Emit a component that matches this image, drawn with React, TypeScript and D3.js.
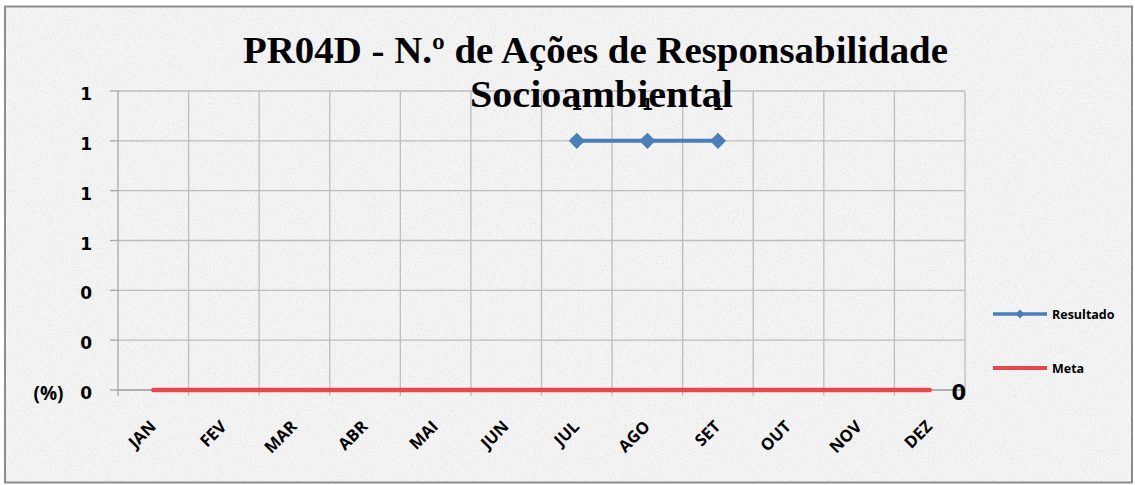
import React from "react";
import * as d3 from "d3";

const months = ["JAN", "FEV", "MAR", "ABR", "MAI", "JUN", "JUL", "AGO", "SET", "OUT", "NOV", "DEZ"];
const resultado: (number | null)[] = [null, null, null, null, null, null, 1, 1, 1, null, null, null];
const meta: number[] = [0, 0, 0, 0, 0, 0, 0, 0, 0, 0, 0, 0];
const yTicks = [0, 0.2, 0.4, 0.6, 0.8, 1.0, 1.2];
const titleLines = ["PR04D - N.º de Ações de Responsabilidade", "Socioambiental"];
const legendItems = ["Resultado", "Meta"];

const W = 1135;
const H = 485;
const BLUE = "#4a7ebb";
const RED = "#e8474b";
const GRID = "#bdbdbd";
const LABEL_FONT = "'Open Sans', 'DejaVu Sans', sans-serif";
const NUM_FONT = "'DejaVu Sans', 'Open Sans', sans-serif";

export default function App() {
  const x = d3.scaleBand<string>().domain(months).range([118, 965]);
  const cx = (m: string) => (x(m) as number) + x.bandwidth() / 2;
  const y = d3.scaleLinear().domain([0, 1.2]).range([390, 91]);
  const fmt = d3.format(".0f");

  const resPts = months
    .map((m, i) => ({ m, v: resultado[i] }))
    .filter((d) => d.v !== null) as { m: string; v: number }[];
  const metaPts = months.map((m, i) => ({ m, v: meta[i] }));

  const line = d3
    .line<{ m: string; v: number }>()
    .x((d) => cx(d.m))
    .y((d) => y(d.v));

  const diamond = d3.symbol().type(d3.symbolDiamond2).size(165)();

  return (
    <svg
      width={W}
      height={H}
      style={{ position: "absolute", left: 0, top: 0, display: "block" }}
    >
      <defs>
        <filter id="grain" x="0" y="0" width="100%" height="100%">
          <feTurbulence type="fractalNoise" baseFrequency="0.6" numOctaves="3" seed="4" result="n" />
          <feColorMatrix
            in="n"
            type="matrix"
            values="0 0 0 0 0.6  0 0 0 0 0.6  0 0 0 0 0.6  1.6 0 0 0 -0.65"
          />
        </filter>
      </defs>
      <rect x={0} y={0} width={W} height={H} fill="#ffffff" />
      <rect x={5} y={6.5} width={1127} height={476} fill="#f5f5f5" />
      <rect x={5} y={6.5} width={1127} height={476} filter="url(#grain)" opacity={0.45} />
      <rect x={5} y={6.5} width={1127} height={476} fill="none" stroke="#8c8c8c" strokeWidth={2} />

      {/* horizontal gridlines */}
      {yTicks.map((t) => (
        <line key={"h" + t} x1={118} x2={965} y1={y(t)} y2={y(t)} stroke={GRID} strokeWidth={1.3} />
      ))}
      {/* vertical gridlines */}
      {months.map((m) => (
        <line
          key={"v" + m}
          x1={(x(m) as number) + x.bandwidth()}
          x2={(x(m) as number) + x.bandwidth()}
          y1={y(1.2)}
          y2={396}
          stroke={GRID}
          strokeWidth={1.3}
        />
      ))}
      <line x1={118} x2={118} y1={y(1.2)} y2={396} stroke="#a6a6a6" strokeWidth={1.3} />
      <line x1={118} x2={965} y1={y(0)} y2={y(0)} stroke="#a6a6a6" strokeWidth={1.3} />
      {/* y ticks */}
      {yTicks.map((t) => (
        <g key={"yt" + t}>
          <line x1={110} x2={118} y1={y(t)} y2={y(t)} stroke="#a6a6a6" strokeWidth={1.3} />
          <text
            x={92}
            y={y(t) + 9}
            textAnchor="end"
            fontFamily={NUM_FONT}
            fontWeight="bold"
            fontSize={17}
            fill="#000"
          >
            {fmt(t)}
          </text>
        </g>
      ))}
      <text
        x={48.5}
        y={y(0) + 3}
        textAnchor="middle"
        dominantBaseline="central"
        fontFamily={LABEL_FONT}
        fontWeight="bold"
        fontSize={19}
        fill="#000"
      >
        (%)
      </text>
      {/* x tick labels */}
      {months.map((m) => (
        <text
          key={"xl" + m}
          transform={`translate(${cx(m) - 1},${423}) rotate(-45)`}
          textAnchor="end"
          dominantBaseline="central"
          fontFamily={LABEL_FONT}
          fontWeight="bold"
          fontSize={16.5}
          fill="#000"
        >
          {m}
        </text>
      ))}

      {/* Meta */}
      <path d={line(metaPts) || ""} fill="none" stroke={RED} strokeWidth={4.5} strokeLinecap="round" />
      <text
        x={cx("DEZ") + 29}
        y={y(0) + 10}
        textAnchor="middle"
        fontFamily={NUM_FONT}
        fontWeight="bold"
        fontSize={21}
        fill="#000"
      >
        {fmt(meta[meta.length - 1])}
      </text>

      {/* Resultado */}
      <path d={line(resPts) || ""} fill="none" stroke={BLUE} strokeWidth={4} />
      {resPts.map((d) => (
        <path key={"d" + d.m} d={diamond || ""} transform={`translate(${cx(d.m)},${y(d.v)})`} fill={BLUE} />
      ))}

      {/* Resultado labels (behind title, as in the original) */}
      {resPts.map((d) => (
        <text
          key={"rl" + d.m}
          x={cx(d.m)}
          y={y(d.v) - 31}
          textAnchor="middle"
          fontFamily={NUM_FONT}
          fontWeight="bold"
          fontSize={16}
          fill="#000"
        >
          {fmt(d.v)}
        </text>
      ))}

      {/* Title */}
      <text
        x={595.5}
        y={63}
        textAnchor="middle"
        fontFamily="'Liberation Serif', 'DejaVu Serif', serif"
        fontWeight="bold"
        fontSize={37}
        textLength={705}
        lengthAdjust="spacingAndGlyphs"
        fill="#000"
      >
        {titleLines[0]}
      </text>
      <text
        x={601.5}
        y={107}
        textAnchor="middle"
        fontFamily="'Liberation Serif', 'DejaVu Serif', serif"
        fontWeight="bold"
        fontSize={37}
        textLength={263}
        lengthAdjust="spacingAndGlyphs"
        fill="#000"
      >
        {titleLines[1]}
      </text>

      {/* Legend */}
      <g>
        <line x1={993} x2={1047} y1={314} y2={314} stroke={BLUE} strokeWidth={3.5} />
        <path d={d3.symbol().type(d3.symbolDiamond2).size(50)() || ""} transform="translate(1020,314)" fill={BLUE} />
        <text x={1052} y={314} dominantBaseline="central" fontFamily={LABEL_FONT} fontWeight="bold" fontSize={12.5} fill="#000">
          {legendItems[0]}
        </text>
        <line x1={993} x2={1047} y1={368} y2={368} stroke={RED} strokeWidth={4} />
        <text x={1052} y={368} dominantBaseline="central" fontFamily={LABEL_FONT} fontWeight="bold" fontSize={12.5} fill="#000">
          {legendItems[1]}
        </text>
      </g>
    </svg>
  );
}
